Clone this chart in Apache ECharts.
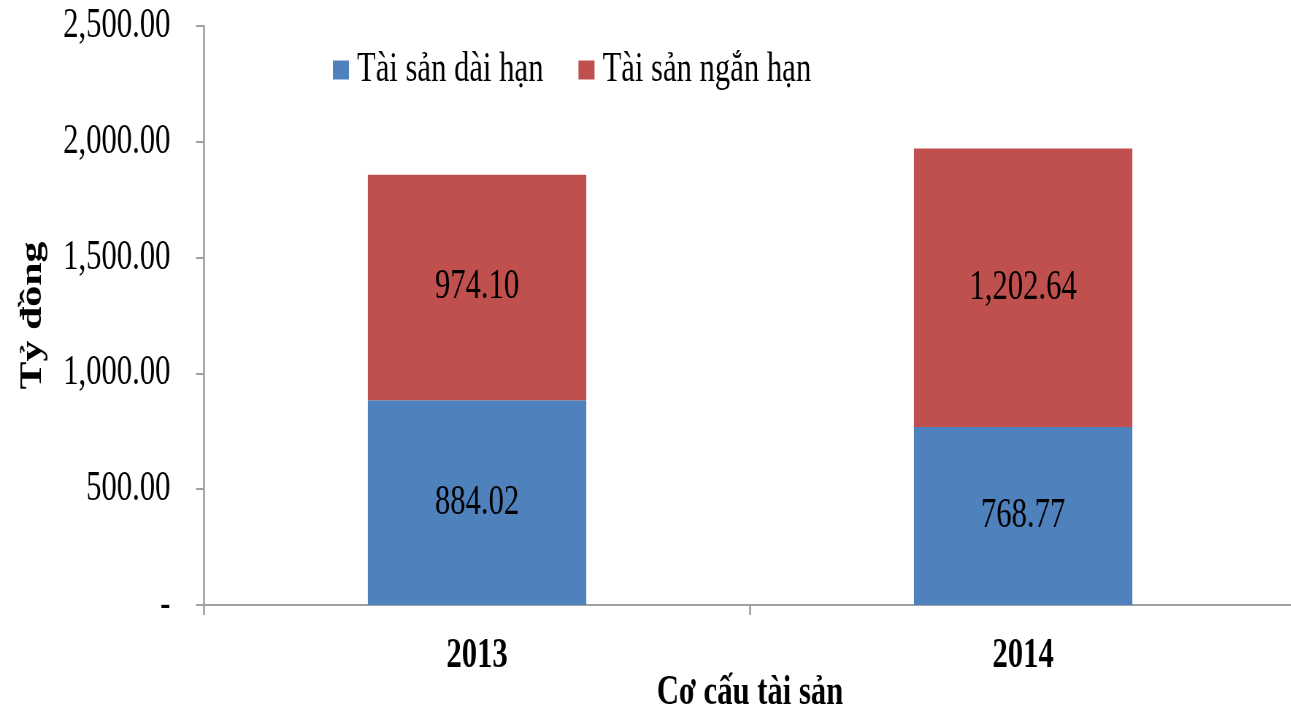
<!DOCTYPE html>
<html>
<head>
<meta charset="utf-8">
<script src="https://cdn.jsdelivr.net/npm/echarts@6/dist/echarts.min.js"></script>
<style>
  html, body { margin: 0; height: 100%; overflow: hidden; background: #fff; }
  /* the source chart is squashed sideways, so the canvas is drawn wide and scaled back */
  #main { width: 1780px; height: 710px; transform: scaleX(0.73); transform-origin: 0 0; }
</style>
</head>
<body>
<div id="main"></div>
<script>
  // du lieu
  var years = ['2013', '2014'];
  var daiHan = [884.02, 768.77];
  var nganHan = [974.10, 1202.64];
  var seriesNames = ['Tài sản dài hạn', 'Tài sản ngắn hạn'];

  var fontFam = '"Liberation Serif", "Times New Roman", serif';
  var axisGray = '#a0a0a0';

  function fmt(v) {
    if (v === 0) return '-';
    return v.toLocaleString('en-US', {minimumFractionDigits: 2, maximumFractionDigits: 2});
  }

  var labelStyle = {
    show: true,
    position: 'inside',
    color: '#000',
    fontFamily: fontFam,
    fontSize: 42,
    formatter: function (p) { return fmt(p.value); }
  };

  var chart = echarts.init(document.getElementById('main'));
  var option = {
    animation: false,
    textStyle: { fontFamily: fontFam },
    legend: {
      left: 451,
      top: 44,
      itemWidth: 22,
      itemHeight: 19,
      itemGap: 48,
      icon: 'rect',
      textStyle: { fontFamily: fontFam, fontSize: 42, color: '#000', padding: [0, 0, 0, 6] },
      data: seriesNames
    },
    grid: { left: 279.5, width: 1496, top: 26, bottom: 105, containLabel: false, outerBoundsMode: 'none' },
    xAxis: {
      type: 'category',
      data: years,
      name: 'Cơ cấu tài sản',
      nameLocation: 'middle',
      nameGap: 67,
      nameMoveOverlap: false,
      nameTextStyle: { fontFamily: fontFam, fontSize: 42, fontWeight: 'bold', color: '#000' },
      axisLine: { lineStyle: { color: axisGray, width: 2 } },
      axisTick: { show: true, length: 10, lineStyle: { color: axisGray, width: 2.7 } },
      axisLabel: { margin: 30, fontFamily: fontFam, fontSize: 42, fontWeight: 'bold', color: '#000' }
    },
    yAxis: {
      type: 'value',
      min: 0,
      max: 2500,
      interval: 500,
      name: 'Tỷ đồng',
      nameLocation: 'middle',
      nameGap: 213,
      nameMoveOverlap: false,
      nameRotate: 90,
      nameTextStyle: { fontFamily: fontFam, fontSize: 42, fontWeight: 'bold', color: '#000' },
      axisLine: { show: true, lineStyle: { color: axisGray, width: 2.7 } },
      axisTick: { show: true, inside: false, length: 11, lineStyle: { color: axisGray, width: 2 } },
      splitLine: { show: false },
      axisLabel: {
        margin: 46,
        fontFamily: fontFam,
        fontSize: 42,
        color: '#000',
        formatter: fmt
      }
    },
    series: [
      {
        name: seriesNames[0],
        type: 'bar',
        stack: 'ts',
        barWidth: '40%',
        itemStyle: { color: '#4f81bd' },
        label: labelStyle,
        data: daiHan
      },
      {
        name: seriesNames[1],
        type: 'bar',
        stack: 'ts',
        barWidth: '40%',
        itemStyle: { color: '#c0504d' },
        label: labelStyle,
        data: nganHan
      }
    ]
  };
  chart.setOption(option);
</script>
</body>
</html>
